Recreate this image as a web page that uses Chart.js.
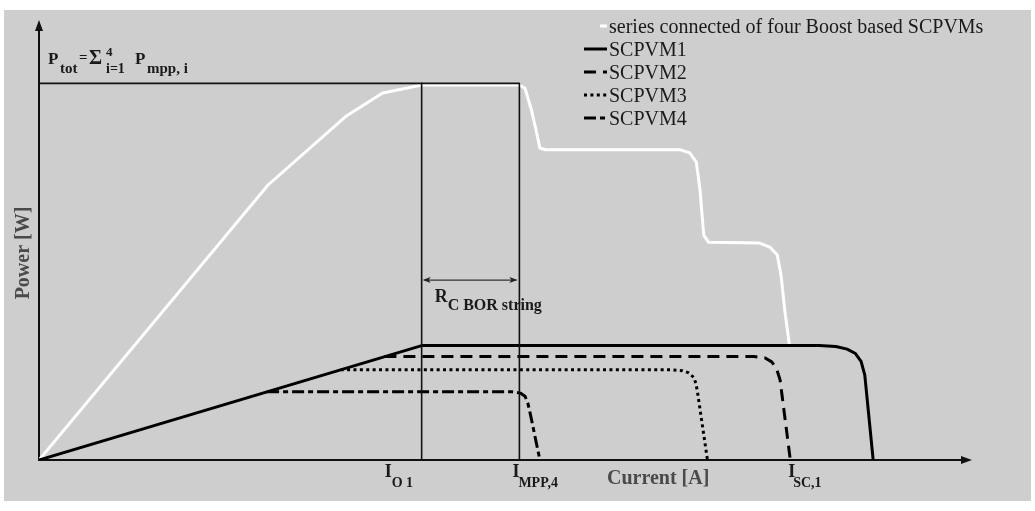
<!DOCTYPE html>
<html><head><meta charset="utf-8">
<script src="https://cdn.jsdelivr.net/npm/chart.js@4.4.0/dist/chart.umd.min.js"></script>
<style>html,body{margin:0;padding:0;background:#fff;overflow:hidden}canvas{display:block}</style>
</head><body>
<canvas id="c" width="1035" height="511"></canvas>
<script>
// ---- data (arbitrary units) ----
const seriesLabels = ['series connected of four Boost based SCPVMs', 'SCPVM1', 'SCPVM2', 'SCPVM3', 'SCPVM4'];
const xMax = 100, yMax = 100;

const stringI = [0, 24.6, 32.9, 36.9, 41.1, 51.6, 52.2, 52.9, 53.5, 53.8, 54.4, 68.9, 69.9, 70.6, 71.0, 71.4, 71.9, 77.4, 78.5, 79.3, 79.7, 80.1, 80.6];
const stringP = [0, 62.5, 78.0, 83.4, 85.2, 85.2, 84.5, 79.5, 73.9, 70.9, 70.5, 70.5, 69.8, 67.7, 61.4, 51.1, 49.5, 49.3, 48.4, 46.6, 42.0, 34.1, 26.1];

const scpvm1I = [0, 41.1, 83.8, 85.6, 86.8, 87.7, 88.3, 88.7, 89.6];
const scpvm1P = [0, 26.0, 26.0, 25.8, 25.2, 24.2, 22.4, 19.3, 0];

const scpvm2I = [37.1, 76.8, 78.0, 78.7, 79.2, 79.6, 80.7];
const scpvm2P = [23.5, 23.5, 23.2, 22.3, 20.9, 18.2, 0];

const scpvm3I = [32.4, 68.0, 69.1, 69.8, 70.4, 70.7, 71.8];
const scpvm3P = [20.5, 20.5, 20.3, 19.8, 18.6, 15.9, 0];

const scpvm4I = [24.5, 50.8, 51.7, 52.2, 52.5, 52.8, 53.8];
const scpvm4P = [15.5, 15.5, 15.2, 14.5, 13.0, 10.2, 0];

const I_O1 = 41.1, I_MPP4 = 51.6, I_SC1 = 89.6, P_TOT = 85.6, R_ARROW_P = 40.9;

// ---- helpers ----
const toPts = (xs, ys) => xs.map((x, i) => ({ x, y: ys[i] }));
const SERIF = '"Liberation Serif", "DejaVu Serif", serif';
function txt(ctx, s, px, py, size, bold, color) {
  ctx.font = (bold ? 'bold ' : '') + size + 'px ' + SERIF;
  ctx.fillStyle = color || '#1a1a1a';
  ctx.fillText(s, px, py);
}

const bgPlugin = {
  id: 'bg',
  beforeDraw(chart) {
    const ctx = chart.ctx;
    ctx.save();
    ctx.fillStyle = '#ffffff'; ctx.fillRect(0, 0, chart.width, chart.height);
    ctx.fillStyle = '#cecece'; ctx.fillRect(4, 10, 1027, 491);
    ctx.restore();
  }
};

const axesPlugin = {
  id: 'axes',
  beforeDatasetsDraw(chart) {
    const { ctx, scales: { x, y } } = chart;
    const x0 = x.getPixelForValue(0), y0 = y.getPixelForValue(0);
    const yTop = y.getPixelForValue(yMax), xEnd = x.getPixelForValue(xMax) + 2;
    ctx.save();
    ctx.strokeStyle = '#111'; ctx.fillStyle = '#111'; ctx.lineWidth = 2;
    ctx.beginPath();
    ctx.moveTo(x0, y0 + 1); ctx.lineTo(x0, yTop + 8);
    ctx.moveTo(x0 - 1, y0); ctx.lineTo(xEnd - 8, y0);
    ctx.stroke();
    ctx.beginPath(); ctx.moveTo(x0, yTop); ctx.lineTo(x0 - 4, yTop + 11); ctx.lineTo(x0 + 4, yTop + 11); ctx.closePath(); ctx.fill();
    ctx.beginPath(); ctx.moveTo(xEnd, y0); ctx.lineTo(xEnd - 11, y0 - 4); ctx.lineTo(xEnd - 11, y0 + 4); ctx.closePath(); ctx.fill();
    ctx.restore();
  }
};

const annotPlugin = {
  id: 'annot',
  afterDatasetsDraw(chart) {
    const { ctx, scales: { x, y } } = chart;
    const x0 = x.getPixelForValue(0), y0 = y.getPixelForValue(0);
    const xO = x.getPixelForValue(I_O1), xM = x.getPixelForValue(I_MPP4), xS = x.getPixelForValue(I_SC1);
    const yP = y.getPixelForValue(P_TOT), yR = y.getPixelForValue(R_ARROW_P);
    ctx.save();
    ctx.textBaseline = 'alphabetic'; ctx.textAlign = 'left';
    // P_tot label
    txt(ctx, 'P', x0 + 9, yP - 19, 17, true);
    txt(ctx, 'tot', x0 + 21, yP - 10, 15, true);
    txt(ctx, '=', x0 + 40, yP - 21, 15, true);
    txt(ctx, 'Σ', x0 + 50, yP - 19, 20, true);
    txt(ctx, '4', x0 + 67, yP - 27, 13, true);
    txt(ctx, 'i=1', x0 + 67, yP - 10, 14, true);
    txt(ctx, 'P', x0 + 96, yP - 19, 17, true);
    txt(ctx, 'mpp, i', x0 + 108, yP - 10, 15, true);
    // R_C BOR string arrow
    ctx.strokeStyle = '#333'; ctx.fillStyle = '#222'; ctx.lineWidth = 1.2;
    ctx.beginPath(); ctx.moveTo(xO + 3, yR); ctx.lineTo(xM - 3, yR); ctx.stroke();
    ctx.beginPath(); ctx.moveTo(xO + 1, yR); ctx.lineTo(xO + 9, yR - 3); ctx.lineTo(xO + 7, yR); ctx.lineTo(xO + 9, yR + 3); ctx.closePath(); ctx.fill();
    ctx.beginPath(); ctx.moveTo(xM - 2, yR); ctx.lineTo(xM - 10, yR - 3); ctx.lineTo(xM - 8, yR); ctx.lineTo(xM - 10, yR + 3); ctx.closePath(); ctx.fill();
    txt(ctx, 'R', xO + 13, yR + 22, 18, true);
    txt(ctx, 'C BOR string', xO + 26, yR + 30, 16, true);
    // current labels
    txt(ctx, 'I', xO - 37, y0 + 17, 18, true);
    txt(ctx, 'O 1', xO - 30, y0 + 27, 14, true);
    txt(ctx, 'I', xM - 7, y0 + 17, 18, true);
    txt(ctx, 'MPP,4', xM - 1, y0 + 27, 14, true);
    txt(ctx, 'I', xS - 85, y0 + 17, 18, true);
    txt(ctx, 'SC,1', xS - 80, y0 + 27, 14, true);
    // axis titles
    txt(ctx, 'Current [A]', 607, 484, 20, true, '#4a4a4a');
    ctx.translate(29, 253); ctx.rotate(-Math.PI / 2); ctx.textAlign = 'center';
    txt(ctx, 'Power [W]', 0, 0, 20, true, '#4a4a4a');
    ctx.restore();
  },
  afterDraw(chart) {
    const ctx = chart.ctx;
    ctx.save();
    ctx.textBaseline = 'alphabetic'; ctx.textAlign = 'left';
    let row = 0;
    chart.data.datasets.forEach(ds => {
      if (ds.isRef) return;
      const base = 33 + row * 23;
      const my = base - 7;
      ctx.strokeStyle = ds.borderColor; ctx.lineWidth = ds.borderWidth;
      ctx.setLineDash(ds.borderDash || []);
      ctx.lineCap = 'butt';
      ctx.beginPath();
      ctx.moveTo(row === 0 ? 600 : 584, my); ctx.lineTo(607, my); ctx.stroke();
      ctx.setLineDash([]);
      txt(ctx, ds.label, 609, base, 20, false, '#1a1a1a');
      row++;
    });
    ctx.restore();
  }
};

const common = { showLine: true, pointRadius: 0, pointHoverRadius: 0, fill: false, tension: 0, borderCapStyle: 'butt', borderJoinStyle: 'round' };

new Chart(document.getElementById('c'), {
  type: 'scatter',
  data: {
    datasets: [
      Object.assign({ label: seriesLabels[0], data: toPts(stringI, stringP), borderColor: '#ffffff', borderWidth: 3, order: 5 }, common),
      Object.assign({ label: seriesLabels[1], data: toPts(scpvm1I, scpvm1P), borderColor: '#000000', borderWidth: 3, order: 1 }, common),
      Object.assign({ label: seriesLabels[2], data: toPts(scpvm2I, scpvm2P), borderColor: '#000000', borderWidth: 3, borderDash: [12, 7], order: 2 }, common),
      Object.assign({ label: seriesLabels[3], data: toPts(scpvm3I, scpvm3P), borderColor: '#000000', borderWidth: 3, borderDash: [3, 3.4], order: 3 }, common),
      Object.assign({ label: seriesLabels[4], data: toPts(scpvm4I, scpvm4P), borderColor: '#000000', borderWidth: 3, borderDash: [12, 4, 5, 4], order: 4 }, common),
      Object.assign({ label: 'ref1', isRef: true, data: [{ x: 0, y: P_TOT }, { x: I_MPP4, y: P_TOT }, { x: I_MPP4, y: 0 }], borderColor: '#111', borderWidth: 1.6, order: 0 }, common),
      Object.assign({ label: 'ref2', isRef: true, data: [{ x: I_O1, y: P_TOT }, { x: I_O1, y: 0 }], borderColor: '#111', borderWidth: 1.6, order: 0 }, common)
    ]
  },
  options: {
    responsive: false,
    devicePixelRatio: 1,
    animation: false,
    layout: { padding: { left: 39, right: 65, top: 20, bottom: 51 } },
    scales: {
      x: { type: 'linear', min: 0, max: xMax, display: false },
      y: { type: 'linear', min: 0, max: yMax, display: false }
    },
    plugins: { legend: { display: false }, tooltip: { enabled: false } },
    events: []
  },
  plugins: [bgPlugin, axesPlugin, annotPlugin]
});
</script>
</body></html>
